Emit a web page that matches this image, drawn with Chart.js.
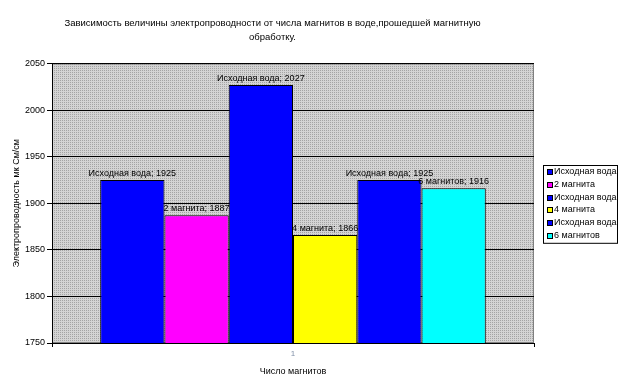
<!DOCTYPE html>
<html>
<head>
    <meta charset="utf-8">
    <title>Электропроводность</title>
    <script src="https://cdn.jsdelivr.net/npm/chart.js@4.4.0/dist/chart.umd.min.js"></script>
    <style>
        html, body { margin: 0; padding: 0; background: #fff; }
        #wrap { width: 623px; height: 388px; position: relative; }
    </style>
</head>
<body>
<div id="wrap"><canvas id="chart"></canvas></div>
<script>
// данные
const categories = ['1'];
const seriesNames = ['Исходная вода', '2 магнита', 'Исходная вода', '4 магнита', 'Исходная вода', '6 магнитов'];
const seriesValues = [1925, 1887, 2027, 1866, 1925, 1916];
const seriesColors = ['#0000ff', '#ff00ff', '#0000ff', '#ffff00', '#0000ff', '#00ffff'];
const yTicks = [1750, 1800, 1850, 1900, 1950, 2000, 2050];

const titleLines = ['Зависимость величины электропроводности от числа магнитов в воде,прошедшей магнитную', 'обработку.'];
const yTitle = 'Электропроводность мк См/см';
const xTitle = 'Число магнитов';

const FONT = 'Liberation Sans, Arial, sans-serif';

// серый фон с точками, как в Excel
function makePattern() {
    const c = document.createElement('canvas');
    c.width = 2; c.height = 2;
    const g = c.getContext('2d');
    g.fillStyle = '#d4d4d4';
    g.fillRect(0, 0, 2, 2);
    g.fillStyle = '#a4a4a4';
    g.fillRect(0, 0, 1, 1);
    return g.createPattern(c, 'repeat');
}

const plotBg = {
    id: 'plotBg',
    beforeDraw(chart) {
        const { ctx, chartArea: a } = chart;
        ctx.save();
        ctx.fillStyle = makePattern();
        ctx.fillRect(a.left, a.top, a.right - a.left, a.bottom - a.top);
        ctx.strokeStyle = '#808080';
        ctx.lineWidth = 1;
        ctx.strokeRect(a.left + 0.5, a.top + 0.5, a.right - a.left - 1, a.bottom - a.top - 1);
        ctx.restore();
    }
};

// подписи над столбцами
const barLabels = {
    id: 'barLabels',
    afterDatasetsDraw(chart) {
        const ctx = chart.ctx;
        ctx.save();
        ctx.font = '9px ' + FONT;
        ctx.fillStyle = '#000';
        ctx.textAlign = 'center';
        ctx.textBaseline = 'bottom';
        chart.data.datasets.forEach((ds, i) => {
            const bar = chart.getDatasetMeta(i).data[0];
            ctx.fillText(ds.label + '; ' + ds.data[0], bar.x, bar.y - 2);
        });
        ctx.restore();
    }
};

// легенда в рамке справа
const boxLegend = {
    id: 'boxLegend',
    afterDraw(chart) {
        const ctx = chart.ctx;
        const left = 543, top = 165, w = 74, rowH = 12.8;
        const n = chart.data.datasets.length;
        ctx.save();
        ctx.fillStyle = '#fff';
        ctx.fillRect(left, top, w, rowH * n + 1);
        ctx.strokeStyle = '#000';
        ctx.lineWidth = 1;
        ctx.strokeRect(left + 0.5, top + 0.5, w, rowH * n + 1);
        ctx.font = '9px ' + FONT;
        ctx.textBaseline = 'middle';
        chart.data.datasets.forEach((ds, i) => {
            const cy = Math.round(top + 7 + i * rowH);
            ctx.fillStyle = ds.backgroundColor;
            ctx.fillRect(left + 4, cy - 3, 5, 5);
            ctx.strokeStyle = '#000';
            ctx.strokeRect(left + 4.5, cy - 2.5, 5, 5);
            ctx.fillStyle = '#000';
            ctx.fillText(ds.label, left + 11, cy);
        });
        ctx.restore();
    }
};

const datasets = seriesNames.map((name, i) => ({
    label: name,
    data: [seriesValues[i]],
    backgroundColor: seriesColors[i],
    borderColor: '#000',
    borderWidth: 1,
    categoryPercentage: 0.8,
    barPercentage: 1.0
}));

new Chart(document.getElementById('chart'), {
    type: 'bar',
    data: { labels: categories, datasets: datasets },
    plugins: [plotBg, barLabels, boxLegend],
    options: {
        responsive: true,
        maintainAspectRatio: false,
        animation: false,
        layout: { padding: { left: 11, right: 89, top: 0, bottom: 0 } },
        plugins: {
            legend: { display: false },
            tooltip: { enabled: false },
            title: {
                display: true,
                text: titleLines,
                color: '#000',
                font: { family: FONT, size: 9.5, weight: 'normal', lineHeight: 1.5 },
                padding: { top: 16, bottom: 19 }
            }
        },
        scales: {
            x: {
                afterFit(scale) { scale.height = 45; },
                grid: { display: true, drawOnChartArea: false, color: '#000', tickLength: 4, offset: true },
                border: { color: '#000', width: 1 },
                ticks: { color: '#8090a8', font: { family: FONT, size: 8 }, padding: 2 },
                title: {
                    display: true,
                    text: xTitle,
                    color: '#000',
                    font: { family: FONT, size: 9 },
                    padding: { top: 0, bottom: 11 }
                }
            },
            y: {
                min: 1750,
                max: 2050,
                afterFit(scale) { scale.width = 41; },
                afterBuildTicks(scale) { scale.ticks = yTicks.map(v => ({ value: v })); },
                grid: { color: '#000', tickLength: 5 },
                border: { color: '#000', width: 1 },
                ticks: { color: '#000', font: { family: FONT, size: 9 }, padding: 2, callback: v => String(v) },
                title: {
                    display: true,
                    text: yTitle,
                    color: '#000',
                    font: { family: FONT, size: 9 },
                    padding: { top: 0, bottom: 4 }
                }
            }
        }
    }
});
</script>
</body>
</html>
